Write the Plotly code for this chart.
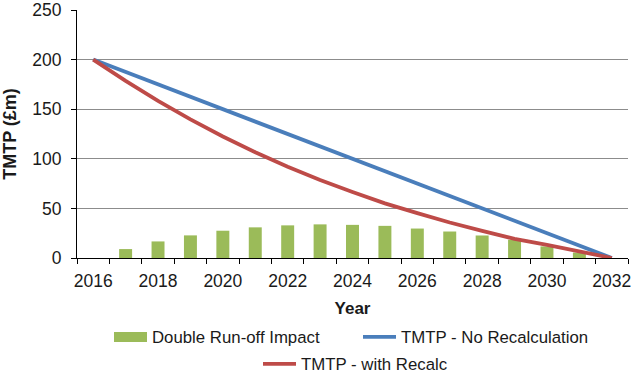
import plotly.graph_objects as go

years = list(range(2016, 2033))
double_runoff = [None, 9, 16.7, 22.8, 27.5, 30.9, 32.9, 33.9, 33.4, 32.4, 29.7, 26.7, 22.7, 18.3, 11.7, 5.5, None]
no_recalc = [200, 187.5, 175, 162.5, 150, 137.5, 125, 112.5, 100, 87.5, 75, 62.5, 50, 37.5, 25, 12.5, 0]
with_recalc = [200, 178.5, 158.3, 139.7, 122.5, 106.6, 92.1, 78.6, 66.6, 55.1, 45.3, 35.8, 27.3, 19.2, 13.3, 7.0, 0]
x_tick_labels = [str(y) for y in range(2016, 2033, 2)]
y_ticks = [0, 50, 100, 150, 200, 250]

GREEN = "#9BBB59"
BLUE = "#4A7EBB"
RED = "#BE4B48"
FONT = "Liberation Sans, Arial, sans-serif"
TXT = "#1a1a1a"

fig = go.Figure()
fig.add_trace(go.Bar(x=years, y=double_runoff, marker=dict(color=GREEN, line_width=0),
                     name="Double Run-off Impact", showlegend=False, legendgroup="bar"))
# legend proxy for the wide rectangular bar swatch
fig.add_trace(go.Scatter(x=[None], y=[None], mode="lines", line=dict(color=GREEN, width=10),
                         name="Double Run-off Impact", legendgroup="bar", legend="legend"))
fig.add_trace(go.Scatter(x=years, y=no_recalc, mode="lines", line=dict(color=BLUE, width=3.8),
                         name="TMTP - No Recalculation", legend="legend"))
fig.add_trace(go.Scatter(x=years, y=with_recalc, mode="lines", line=dict(color=RED, width=3.8),
                         name="TMTP - with Recalc", legend="legend2"))

minor_ticks = [y + 0.5 for y in range(2015, 2033)]

fig.update_layout(
    width=633, height=373,
    margin=dict(l=77, r=5, t=10, b=115, autoexpand=False),
    paper_bgcolor="white", plot_bgcolor="white",
    font=dict(family=FONT, size=16.8, color=TXT),
    bargap=0.6,
    legend=dict(orientation="h", x=(109 - 77) / 551, xanchor="left", y=-(337 - 258) / 248,
                yanchor="middle", font=dict(size=16.8, color=TXT), itemwidth=33,
                entrywidth=201, bgcolor="rgba(0,0,0,0)"),
    legend2=dict(orientation="h", x=(258 - 77) / 551, xanchor="left", y=-(364 - 258) / 248,
                 yanchor="middle", font=dict(size=16.8, color=TXT), itemwidth=33,
                 bgcolor="rgba(0,0,0,0)"),
)

fig.update_xaxes(
    range=[2015.5, 2032.5], tickmode="array", tickvals=list(range(2016, 2033, 2)),
    ticktext=x_tick_labels, ticks="", showgrid=False,
    showline=True, linecolor="black", linewidth=1,
    tickfont=dict(size=17.5, color=TXT), ticklabelstandoff=7,
    title=dict(text="<b>Year</b>", font=dict(size=17, color=TXT), standoff=12),
    minor=dict(tickmode="array", tickvals=minor_ticks, ticks="outside", ticklen=5,
               tickcolor="black", showgrid=False),
)
fig.update_yaxes(
    range=[0, 250], tickvals=y_ticks, ticks="outside", ticklen=5, tickcolor="black",
    showgrid=True, gridcolor="#8c8c8c", gridwidth=1,
    showline=True, linecolor="black", linewidth=1, zeroline=False,
    tickfont=dict(size=17.5, color=TXT), ticklabelstandoff=6,
    title=dict(text="<b>TMTP (£m)</b>", font=dict(size=18, color=TXT), standoff=12),
)

fig.write_html("out.html", config={"displayModeBar": False},
               post_script="document.body.style.margin='0';")
